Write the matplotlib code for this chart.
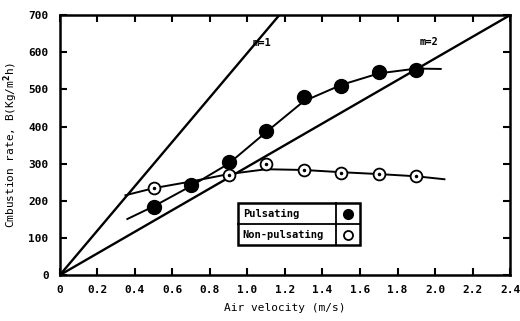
import numpy as np
import matplotlib.pyplot as plt
from matplotlib.patches import Rectangle

plt.rcParams['font.family'] = ['DejaVu Sans Mono']
plt.rcParams['font.weight'] = 'bold'

# measured points
puls_v = [0.5, 0.7, 0.9, 1.1, 1.3, 1.5, 1.7, 1.9]
puls_b = [182, 243, 305, 388, 480, 508, 548, 553]
nonpuls_v = [0.5, 0.9, 1.1, 1.3, 1.5, 1.7, 1.9]
nonpuls_b = [234, 270, 298, 283, 276, 273, 268]

# hand drawn curves through the points
puls_curve_v = [0.36, 0.5, 0.7, 0.9, 1.1, 1.3, 1.5, 1.7, 1.9, 2.03]
puls_curve_b = [151, 185, 240, 300, 385, 468, 512, 543, 556, 555]
nonpuls_curve_v = [0.35, 0.5, 0.7, 0.9, 1.1, 1.3, 1.5, 1.7, 1.9, 2.05]
nonpuls_curve_b = [215, 234, 252, 272, 285, 283, 277, 272, 266, 258]

# reference lines m=1, m=2
m1_v = [0.0, 1.17]
m1_b = [0, 700]
m2_v = [0.0, 2.4]
m2_b = [0, 700]

xticks = [0, 0.2, 0.4, 0.6, 0.8, 1.0, 1.2, 1.4, 1.6, 1.8, 2.0, 2.2, 2.4]
xticklabels = ['0', '0.2', '0.4', '0.6', '0.8', '1.0', '1.2', '1.4', '1.6',
               '1.8', '2.0', '2.2', '2.4']
yticks = [0, 100, 200, 300, 400, 500, 600, 700]

fig = plt.figure(figsize=(5.2, 3.21), dpi=100)
ax = fig.add_axes([0.115, 0.143, 0.866, 0.81])

ax.plot(m1_v, m1_b, color='black', lw=1.7)
ax.plot(m2_v, m2_b, color='black', lw=1.7)
ax.plot(puls_curve_v, puls_curve_b, color='black', lw=1.4)
ax.plot(nonpuls_curve_v, nonpuls_curve_b, color='black', lw=1.4)

ax.plot(puls_v, puls_b, 'o', color='black', ms=10, zorder=5)
ax.plot(nonpuls_v, nonpuls_b, 'o', mfc='white', mec='black', mew=1.3,
        ms=8.5, zorder=5)
ax.plot(nonpuls_v, nonpuls_b, 'o', color='black', ms=1.5, zorder=6)

ax.text(1.08, 625, 'm=1', fontsize=7.5, ha='center', va='center')
ax.text(1.97, 628, 'm=2', fontsize=7.5, ha='center', va='center')

ax.set_xlim(0, 2.4)
ax.set_ylim(0, 700)
ax.set_xticks(xticks)
ax.set_xticklabels(xticklabels)
ax.set_yticks(yticks)
ax.tick_params(direction='in', length=5, width=1.5, top=True, right=True,
               labelsize=8, pad=8)
ax.tick_params(axis='x', pad=7)
for s in ax.spines.values():
    s.set_linewidth(1.8)

ax.set_xlabel('Air velocity (m/s)', fontsize=8, labelpad=6)
ax.set_ylabel('Cmbustion rate, B(Kg/m$^2$h)', fontsize=8, labelpad=6)

# table style legend
x0, x1, xd = 0.396, 0.667, 0.613
y0, y1, ym = 0.115, 0.277, 0.196
ax.add_patch(Rectangle((x0, y0), x1 - x0, y1 - y0, transform=ax.transAxes,
                       fill=True, fc='white', ec='black', lw=1.8, zorder=7))
ax.plot([x0, x1], [ym, ym], color='black', lw=1.3, transform=ax.transAxes, zorder=8)
ax.plot([xd, xd], [y0, y1], color='black', lw=1.3, transform=ax.transAxes, zorder=8)
ax.text(x0 + 0.01, (ym + y1) / 2, 'Pulsating', transform=ax.transAxes,
        fontsize=7.5, va='center', zorder=9)
ax.text(x0 + 0.01, (y0 + ym) / 2, 'Non-pulsating', transform=ax.transAxes,
        fontsize=7.5, va='center', zorder=9)
ax.plot([(xd + x1) / 2], [(ym + y1) / 2], 'o', color='black', ms=7,
        transform=ax.transAxes, zorder=9)
ax.plot([(xd + x1) / 2], [(y0 + ym) / 2], 'o', mfc='white', mec='black',
        mew=1.3, ms=6.5, transform=ax.transAxes, zorder=9)

fig.savefig('out.png', dpi=100)
